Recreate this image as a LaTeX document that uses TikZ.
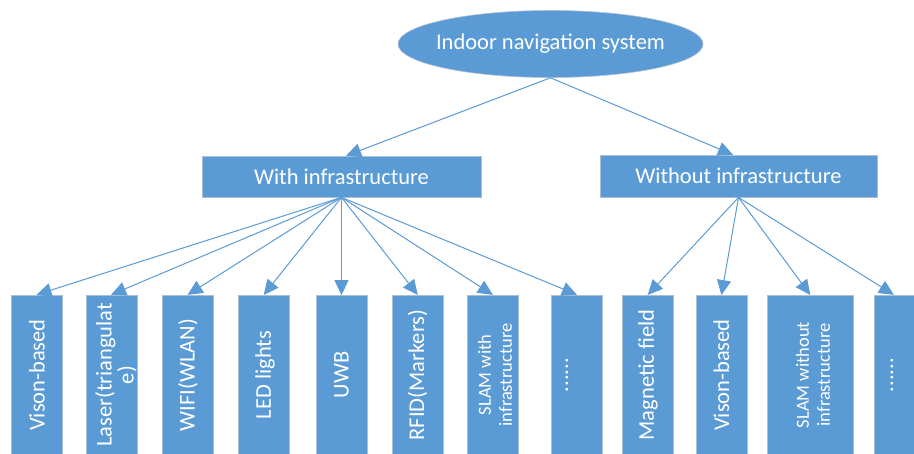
\documentclass[tikz,border=0pt]{standalone}
\usepackage{fontspec}
\setmainfont{Carlito}
\usetikzlibrary{shapes.geometric,arrows.meta}
\definecolor{nodeblue}{HTML}{5B9BD5}
\definecolor{edgegray}{RGB}{170,190,212}
\tikzset{
  box/.style={rectangle,fill=nodeblue,draw=edgegray,line width=0.8pt,inner sep=0pt,text=white,
    font=\fontsize{22.5}{27}\selectfont},
  leaf/.style={rectangle,fill=nodeblue,draw=edgegray,line width=0.8pt,inner sep=0pt,
    minimum width=51pt,minimum height=172pt},
  vtext/.style={rotate=90,text=white,inner sep=0pt,align=center,
    font=\fontsize{22.5}{22}\selectfont},
  vsmall/.style={rotate=90,text=white,inner sep=0pt,align=center,
    font=\fontsize{18.5}{21}\selectfont},
  conn/.style={draw=nodeblue,line width=1pt,-{Triangle[length=15pt,width=14pt]},shorten >=-0.5pt}
}
\begin{document}
\begin{tikzpicture}[x=1pt,y=-1pt]
\clip (0,0) rectangle (914,454);
\fill[white] (0,0) rectangle (914,454);
% root
\node[ellipse,fill=nodeblue,draw=edgegray,line width=0.6pt,inner sep=0pt,minimum width=305pt,minimum height=67pt] (root) at (550.5,44) {};
\node[text=white,inner sep=0pt,font=\fontsize{22.5}{27}\selectfont] (roottext) at (root.center) {Indoor navigation system};
% level 1
\node[box,minimum width=279pt,minimum height=41pt] (wi) at (341.5,176.5) {With infrastructure};
\node[box,minimum width=277pt,minimum height=42pt] (wo) at (738.5,176) {Without infrastructure};
% leaves
\node[leaf] (b1) at (37,381) {};
\node[leaf] (b2) at (111.5,381) {};
\node[leaf] (b3) at (188,381) {};
\node[leaf] (b4) at (264,381) {};
\node[leaf] (b5) at (341.5,381) {};
\node[leaf] (b6) at (417.5,381) {};
\node[leaf] (b7) at (492.5,381) {};
\node[leaf] (b8) at (576.5,381) {};
\node[leaf] (b9) at (648,381) {};
\node[leaf] (b10) at (721.5,381) {};
\node[leaf,minimum width=86pt] (b11) at (810,381) {};
\node[leaf] (b12) at (899.5,381) {};
% leaf texts
\node[vtext] (t1) at (37,375) {Vison-based};
\node[vtext] (t2) at (116,375) {Laser(triangulat\\e)};
\node[vtext] (t3) at (188,375) {WIFI(WLAN)};
\node[vtext] (t4) at (265,375) {LED lights};
\node[vtext] (t5) at (341.5,375) {UWB};
\node[vtext] (t6) at (417.5,375) {RFID(Markers)};
\node[vsmall] (t7) at (495,375) {SLAM with\\infrastructure};
\node[vtext] (t8) at (567,375) {......};
\node[vtext] (t9) at (648,375) {Magnetic field};
\node[vtext] (t10) at (721.5,375) {Vison-based};
\node[vsmall] (t11) at (813,375) {SLAM without\\infrastructure};
\node[vtext] (t12) at (892,375) {......};
% connectors
\draw[conn] (root.south) -- ([xshift=5pt]wi.north);
\draw[conn] (root.south) -- ([xshift=-6pt]wo.north);
\foreach \b in {b1,b2,b3,b4,b5,b6,b7,b8}{
  \draw[conn] (wi.south) -- (\b.north);
}
\foreach \b in {b9,b10,b11}{
  \draw[conn] (wo.south) -- (\b.north);
}
\draw[conn] (wo.south) -- ([xshift=-6pt]b12.north);
\end{tikzpicture}
\end{document}
